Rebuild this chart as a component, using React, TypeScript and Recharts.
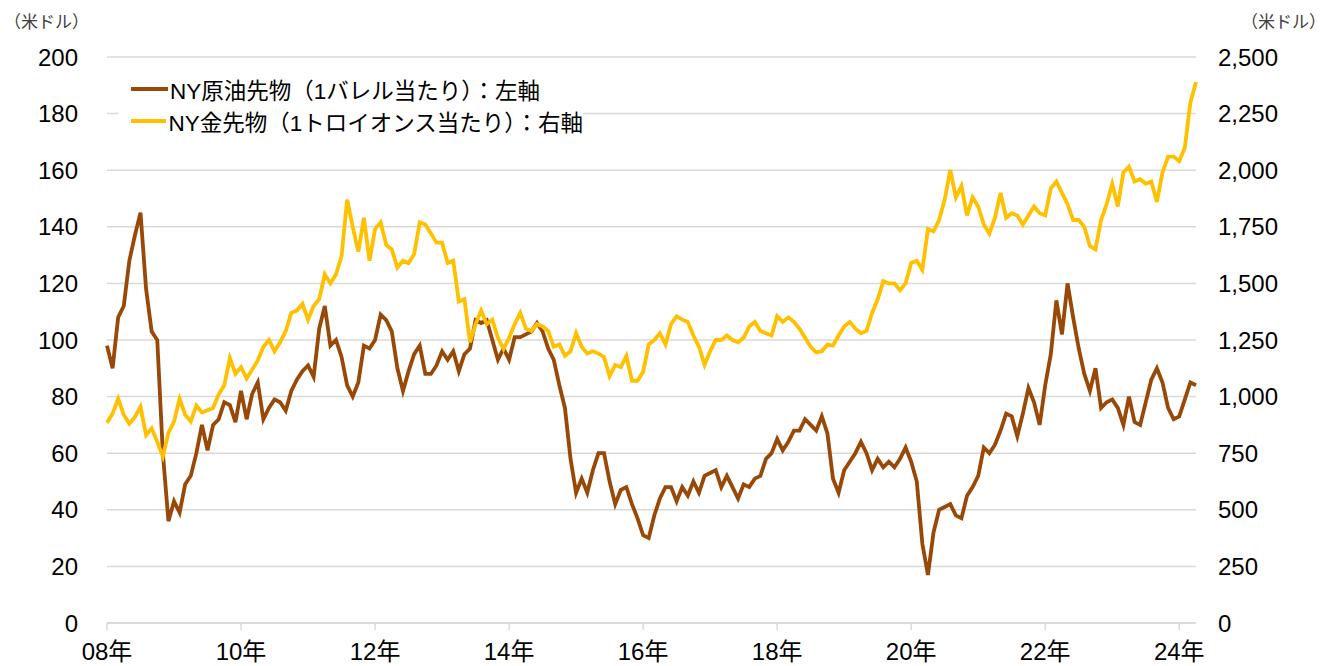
import React from 'react';
import { LineChart, Line, XAxis, YAxis, CartesianGrid } from 'recharts';

const START_YEAR = 2008;

// NY原油先物（米ドル/バレル）、月次
const oilPrice = [
  98, 90, 108, 112, 128, 137, 145, 118, 103, 100, 60, 36, // 2008
  43, 39, 49, 52, 60, 70, 61, 70, 72, 78, 77, 71, // 2009
  82, 72, 81, 85, 72, 76, 79, 78, 75, 82, 86, 89, // 2010
  91, 87, 104, 112, 98, 100, 94, 84, 80, 85, 98, 97, // 2011
  100, 109, 107, 103, 90, 82, 89, 95, 98, 88, 88, 91, // 2012
  96, 93, 96, 89, 95, 97, 107, 106, 107, 100, 93, 97, // 2013
  93, 101, 101, 102, 103, 106, 103, 97, 93, 84, 76, 58, // 2014
  46, 51, 46, 54, 60, 60, 50, 42, 47, 48, 42, 37, // 2015
  31, 30, 38, 44, 48, 48, 43, 48, 45, 50, 46, 52, // 2016
  53, 54, 48, 52, 48, 44, 49, 48, 51, 52, 58, 60, // 2017
  65, 61, 64, 68, 68, 72, 70, 68, 73, 67, 51, 46, // 2018
  54, 57, 60, 64, 60, 54, 58, 55, 57, 55, 58, 62, // 2019
  57, 50, 28, 17, 32, 40, 41, 42, 38, 37, 45, 48, // 2020
  52, 62, 60, 63, 68, 74, 73, 66, 74, 83, 78, 70, // 2021
  84, 95, 114, 102, 120, 108, 97, 88, 82, 90, 76, 78, // 2022
  79, 76, 70, 80, 71, 70, 78, 86, 90, 85, 76, 72, // 2023
  73, 79, 85, 84, // 2024
];

// NY金先物（米ドル/トロイオンス）、月次
const goldPrice = [
  885, 925, 990, 920, 880, 910, 955, 830, 860, 800, 735, 840, // 2008
  890, 990, 920, 890, 960, 930, 940, 950, 1010, 1050, 1170, 1100, // 2009
  1130, 1080, 1120, 1160, 1220, 1250, 1200, 1240, 1290, 1370, 1380, 1410, // 2010
  1340, 1400, 1430, 1540, 1500, 1540, 1620, 1870, 1750, 1640, 1790, 1600, // 2011
  1740, 1770, 1670, 1650, 1570, 1600, 1590, 1630, 1770, 1760, 1720, 1680, // 2012
  1680, 1590, 1600, 1420, 1430, 1240, 1320, 1380, 1320, 1340, 1260, 1210, // 2013
  1260, 1320, 1370, 1300, 1290, 1320, 1310, 1290, 1220, 1230, 1180, 1200, // 2014
  1280, 1220, 1190, 1200, 1190, 1175, 1090, 1140, 1130, 1180, 1070, 1070, // 2015
  1110, 1230, 1250, 1280, 1230, 1320, 1355, 1340, 1330, 1270, 1220, 1140, // 2016
  1200, 1250, 1250, 1270, 1250, 1240, 1260, 1310, 1330, 1290, 1280, 1270, // 2017
  1355, 1330, 1350, 1330, 1300, 1260, 1220, 1195, 1200, 1230, 1225, 1270, // 2018
  1310, 1330, 1300, 1280, 1290, 1370, 1430, 1510, 1500, 1500, 1470, 1500, // 2019
  1590, 1600, 1560, 1740, 1730, 1780, 1870, 2000, 1880, 1930, 1800, 1880, // 2020
  1840, 1760, 1720, 1790, 1900, 1790, 1810, 1800, 1760, 1800, 1840, 1810, // 2021
  1800, 1920, 1950, 1900, 1850, 1780, 1780, 1750, 1665, 1650, 1780, 1850, // 2022
  1940, 1840, 1990, 2015, 1950, 1960, 1940, 1950, 1860, 1990, 2060, 2060, // 2023
  2040, 2100, 2300, 2390, // 2024
];

const xTicks = ['2008-01', '2010-01', '2012-01', '2014-01', '2016-01', '2018-01', '2020-01', '2022-01', '2024-01'];
const xTickLabels = ['08年', '10年', '12年', '14年', '16年', '18年', '20年', '22年', '24年'];
const leftTicks = [0, 20, 40, 60, 80, 100, 120, 140, 160, 180, 200];
const rightTicks = [0, 250, 500, 750, 1000, 1250, 1500, 1750, 2000, 2250, 2500];

const series = [
  { key: 'oil', name: 'NY原油先物（1バレル当たり）：左軸', color: '#984807', axis: 'left' },
  { key: 'gold', name: 'NY金先物（1トロイオンス当たり）：右軸', color: '#FFC000', axis: 'right' },
];

const data = oilPrice.map((oil, i) => ({
  month: `${START_YEAR + Math.floor(i / 12)}-${String((i % 12) + 1).padStart(2, '0')}`,
  oil,
  gold: goldPrice[i],
}));

const FONT = "'Liberation Sans', Arial, 'Noto Sans CJK JP', sans-serif";
const GRID = '#d9d9d9';

const tickStyle = { fontSize: 24, fill: '#000', fontFamily: FONT };

export default function App() {
  return (
    <div style={{ position: 'absolute', left: 0, top: 0, width: 1334, height: 666, background: '#fff', fontFamily: FONT }}>
      <LineChart width={1334} height={666} data={data} margin={{ top: 57, right: 0, bottom: 0, left: 0 }}>
        <CartesianGrid yAxisId="left" vertical={false} stroke={GRID} strokeWidth={1.5} />
        <XAxis
          dataKey="month"
          scale="point"
          ticks={xTicks}
          interval={0}
          tickFormatter={(v: string) => xTickLabels[xTicks.indexOf(v)]}
          height={43}
          tick={tickStyle}
          tickSize={7}
          tickMargin={13}
          axisLine={{ stroke: GRID, strokeWidth: 1.5 }}
          tickLine={{ stroke: GRID, strokeWidth: 1.5 }}
        />
        <YAxis
          yAxisId="left"
          orientation="left"
          domain={[0, 200]}
          ticks={leftTicks}
          width={107}
          tick={tickStyle}
          axisLine={false}
          tickLine={false}
          tickSize={0}
          tickMargin={29}
        />
        <YAxis
          yAxisId="right"
          orientation="right"
          domain={[0, 2500]}
          ticks={rightTicks}
          width={138}
          tick={tickStyle}
          tickFormatter={(v: number) => v.toLocaleString('en-US')}
          axisLine={false}
          tickLine={false}
          tickSize={0}
          tickMargin={22}
        />
        {series.map((s) => (
          <Line
            key={s.key}
            yAxisId={s.axis}
            dataKey={s.key}
            name={s.name}
            stroke={s.color}
            strokeWidth={3.8}
            dot={false}
            type="linear"
            isAnimationActive={false}
          />
        ))}
      </LineChart>

      <div style={{ position: 'absolute', left: 4, top: 8, fontSize: 17, color: '#404040' }}>（米ドル）</div>
      <div style={{ position: 'absolute', left: 1241, top: 8, fontSize: 17, color: '#404040' }}>（米ドル）</div>

      <div style={{ position: 'absolute', left: 118, top: 64, width: 465, height: 76, background: '#fff', paddingTop: 9, boxSizing: 'border-box' }}>
        {series.map((s) => (
          <div key={s.key} style={{ display: 'flex', alignItems: 'center', height: 32, fontSize: 22.5, color: '#000', whiteSpace: 'nowrap' }}>
            <span style={{ display: 'inline-block', width: 37, height: 4, background: s.color, marginLeft: 13, marginRight: 2 }} />
            <span>{s.name}</span>
          </div>
        ))}
      </div>
    </div>
  );
}
